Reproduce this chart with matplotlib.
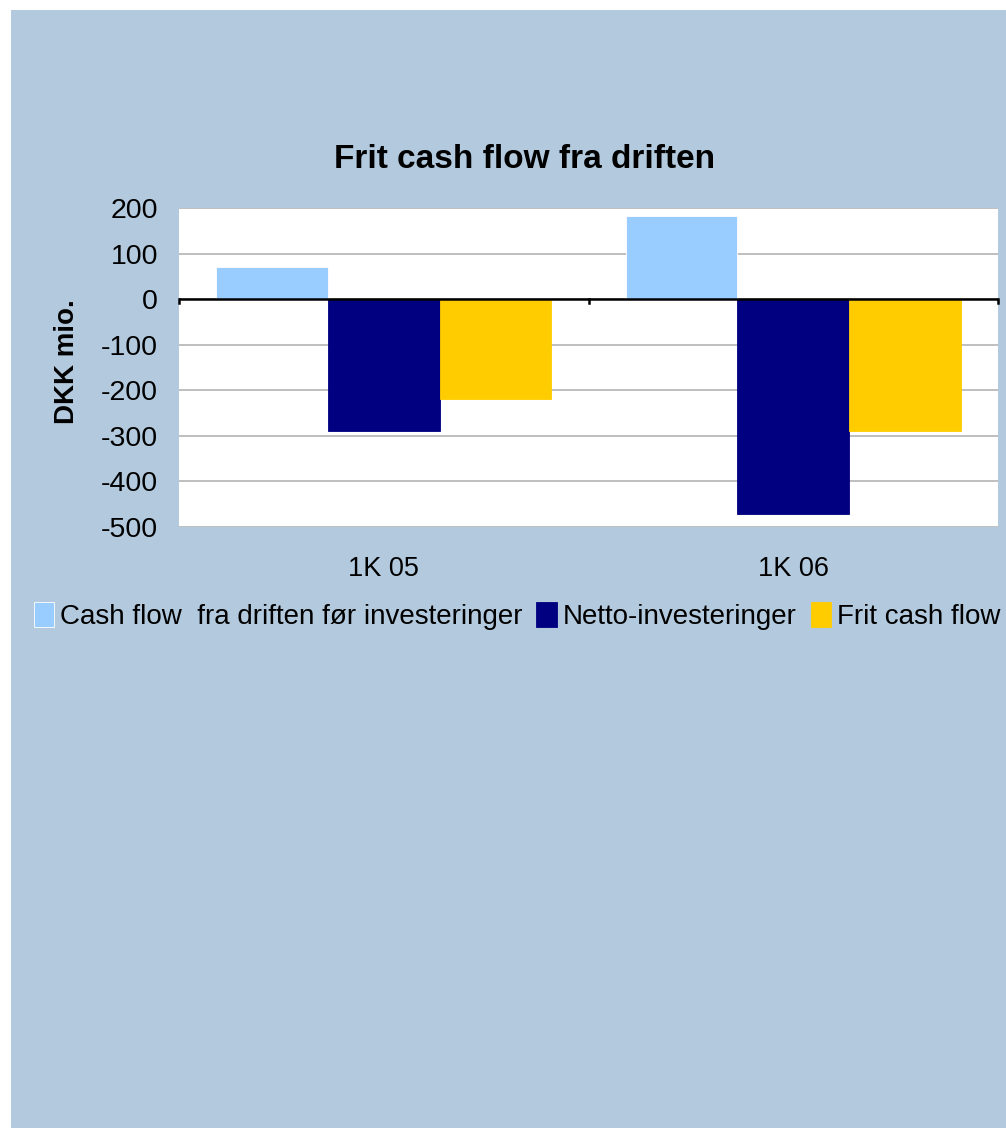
import matplotlib.pyplot as plt
from matplotlib.patches import Rectangle
import numpy as np

# data
categories = ["1K 05", "1K 06"]
series_names = ["Cash flow  fra driften før investeringer", "Netto-investeringer", "Frit cash flow"]
cash_flow = [70, 182]
netto_inv = [-290, -472]
frit_cf = [-220, -290]
yticks = [200, 100, 0, -100, -200, -300, -400, -500]

colors = ["#99CCFF", "#000080", "#FFCC00"]
bg = "#B3CADE"

plt.rcParams['font.family'] = ['Liberation Sans', 'DejaVu Sans']

W, H = 1006, 1128
fig = plt.figure(figsize=(W / 100, H / 100), dpi=100)
fig.patch.set_facecolor("white")
fig.patches.append(Rectangle((11 / W, 0), 1, 1 - 10 / H, transform=fig.transFigure,
                             facecolor=bg, edgecolor="none", zorder=-10))

ax = fig.add_axes([179 / W, 1 - 527 / H, (998 - 179) / W, (527 - 208) / H])
ax.set_facecolor("white")

x = np.arange(len(categories))
bw = 0.273
for i, vals in enumerate([cash_flow, netto_inv, frit_cf]):
    ax.bar(x + (i - 1) * bw, vals, width=bw, color=colors[i], label=series_names[i],
           edgecolor="white" if i == 0 else colors[i], linewidth=0.6, zorder=3)

ax.set_xlim(-0.5, 1.5)
ax.set_ylim(-500, 200)
ax.set_yticks(yticks)
ax.set_yticklabels([str(v) for v in yticks], fontsize=20.5)
ax.yaxis.grid(True, color="#B4B4B4", linewidth=1.2, zorder=0)
ax.set_axisbelow(True)
for s in ax.spines.values():
    s.set_visible(False)
ax.tick_params(axis="y", length=0, pad=15)

# zero line with category tick marks
ax.axhline(0, color="black", linewidth=1.8, zorder=4)
for xt in [-0.5, 0.5, 1.5]:
    ax.plot([xt, xt], [0, -9], color="black", linewidth=1.8, zorder=4, clip_on=False)

ax.set_xticks(x)
ax.set_xticklabels(categories, fontsize=19.5)
ax.tick_params(axis="x", length=0, pad=21)

ax.set_ylabel("DKK mio.", fontsize=20, fontweight="bold")
ax.yaxis.set_label_coords(80 / W, 1 - 362 / H, transform=fig.transFigure)
fig.text(525 / W, 1 - 160 / H, "Frit cash flow fra driften", fontsize=24, fontweight="bold",
         ha="center", va="center")

fig.legend(loc="center", bbox_to_anchor=(517 / W, 1 - 616 / H), ncol=3, frameon=False,
           fontsize=20, handlelength=0.75, handleheight=1.0, handletextpad=0.2,
           columnspacing=0.5, borderaxespad=0)

fig.savefig("out.png", dpi=100, facecolor=fig.get_facecolor())
